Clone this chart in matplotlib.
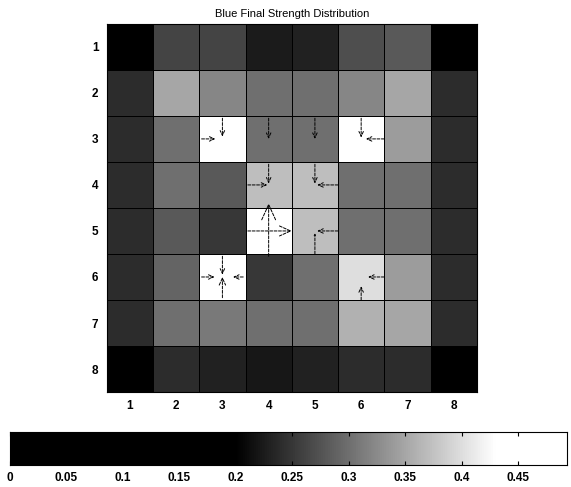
import matplotlib.pyplot as plt
import numpy as np
from matplotlib.colors import LinearSegmentedColormap, Normalize

plt.rcParams['font.family'] = ['Liberation Sans', 'DejaVu Sans']

# strength per cell, row 1 at top
strength = np.array([
    [0.10, 0.26, 0.26, 0.225, 0.23, 0.27, 0.28, 0.10],
    [0.24, 0.35, 0.32, 0.30, 0.30, 0.32, 0.35, 0.24],
    [0.24, 0.30, 0.48, 0.30, 0.30, 0.48, 0.34, 0.24],
    [0.24, 0.30, 0.28, 0.37, 0.37, 0.30, 0.30, 0.24],
    [0.24, 0.28, 0.25, 0.48, 0.37, 0.30, 0.30, 0.24],
    [0.24, 0.29, 0.48, 0.25, 0.30, 0.40, 0.34, 0.24],
    [0.24, 0.30, 0.31, 0.30, 0.30, 0.36, 0.35, 0.24],
    [0.10, 0.24, 0.23, 0.22, 0.23, 0.24, 0.24, 0.10],
])
vmax = 0.493
cbar_ticks = [0, 0.05, 0.1, 0.15, 0.2, 0.25, 0.3, 0.35, 0.4, 0.45]
cbar_labels = ["0", "0.05", "0.1", "0.15", "0.2", "0.25", "0.3", "0.35", "0.4", "0.45"]

# arrows: tail x, tail y, dx, dy, head size
arr_x  = [2.55, 3.0, 4.0, 5.0, 6.0, 6.5, 4.0, 3.55, 5.0, 5.5, 4.0, 3.55, 5.5, 5.0, 3.0, 3.0, 2.55, 3.45, 6.5, 6.0]
arr_y  = [3.0, 2.55, 2.55, 2.55, 2.55, 3.0, 3.55, 4.0, 3.55, 4.0, 5.55, 5.0, 5.0, 5.5, 5.55, 6.45, 6.0, 6.0, 6.0, 6.5]
arr_dx = [0.3, 0.0, 0.0, 0.0, 0.0, -0.4, 0.0, 0.42, 0.0, -0.45, 0.0, 0.95, -0.45, 0.0, 0.0, 0.0, 0.28, -0.22, -0.35, 0.0]
arr_dy = [0.0, 0.4, 0.45, 0.45, 0.42, 0.0, 0.42, 0.0, 0.42, 0.0, -1.15, 0.0, 0.0, -0.45, 0.4, -0.45, 0.0, 0.0, 0.0, -0.3]
arr_hs = [0.35, 0.35, 0.35, 0.35, 0.35, 0.35, 0.35, 0.35, 0.35, 0.35, 1.1, 0.8, 0.35, 0.1, 0.35, 0.5, 0.35, 0.35, 0.35, 0.35]

cmap = LinearSegmentedColormap.from_list(
    "bw", [(0, "black"), (0.2 / vmax, "black"), (0.43 / vmax, "white"), (1, "white")])
norm = Normalize(0, vmax)

fig = plt.figure(figsize=(5.71, 4.87), dpi=100)
ax = fig.add_axes([0.187, 0.195, 0.648, 0.756])
edges = np.arange(0.5, 9.5, 1.0)
ax.pcolormesh(edges, edges, strength, cmap=cmap, norm=norm,
              edgecolors='k', linewidth=0.6)
ax.set_xlim(0.5, 8.5)
ax.set_ylim(8.5, 0.5)
ax.set_xticks(np.arange(1, 9))
ax.set_yticks(np.arange(1, 9))
ax.tick_params(length=0, labelsize=8.5, pad=6)
for lab in ax.get_xticklabels() + ax.get_yticklabels():
    lab.set_fontweight('bold')
for s in ax.spines.values():
    s.set_linewidth(0.8)
ax.set_title("Blue Final Strength Distribution", fontsize=8, pad=5)

for x, y, dx, dy, hs in zip(arr_x, arr_y, arr_dx, arr_dy, arr_hs):
    ax.annotate("", xy=(x + dx, y + dy), xytext=(x, y),
                arrowprops=dict(arrowstyle="->,head_length=%.2f,head_width=%.2f" % (hs, hs * 0.45),
                                color="k", lw=0.7, linestyle=(0, (3, 1.5)),
                                shrinkA=0, shrinkB=0))

cax = fig.add_axes([0.0175, 0.045, 0.975, 0.068])
grad = np.linspace(0, vmax, 512).reshape(1, -1)
cax.imshow(grad, aspect='auto', cmap=cmap, norm=norm, extent=[0, vmax, 0, 1])
cax.set_xlim(0, vmax)
cax.set_yticks([])
cax.set_xticks(cbar_ticks)
cax.set_xticklabels(cbar_labels, fontweight='bold', fontsize=8.5)
cax.tick_params(axis='x', direction='in', top=True, length=3, pad=5)

fig.savefig("out.png", dpi=100)
